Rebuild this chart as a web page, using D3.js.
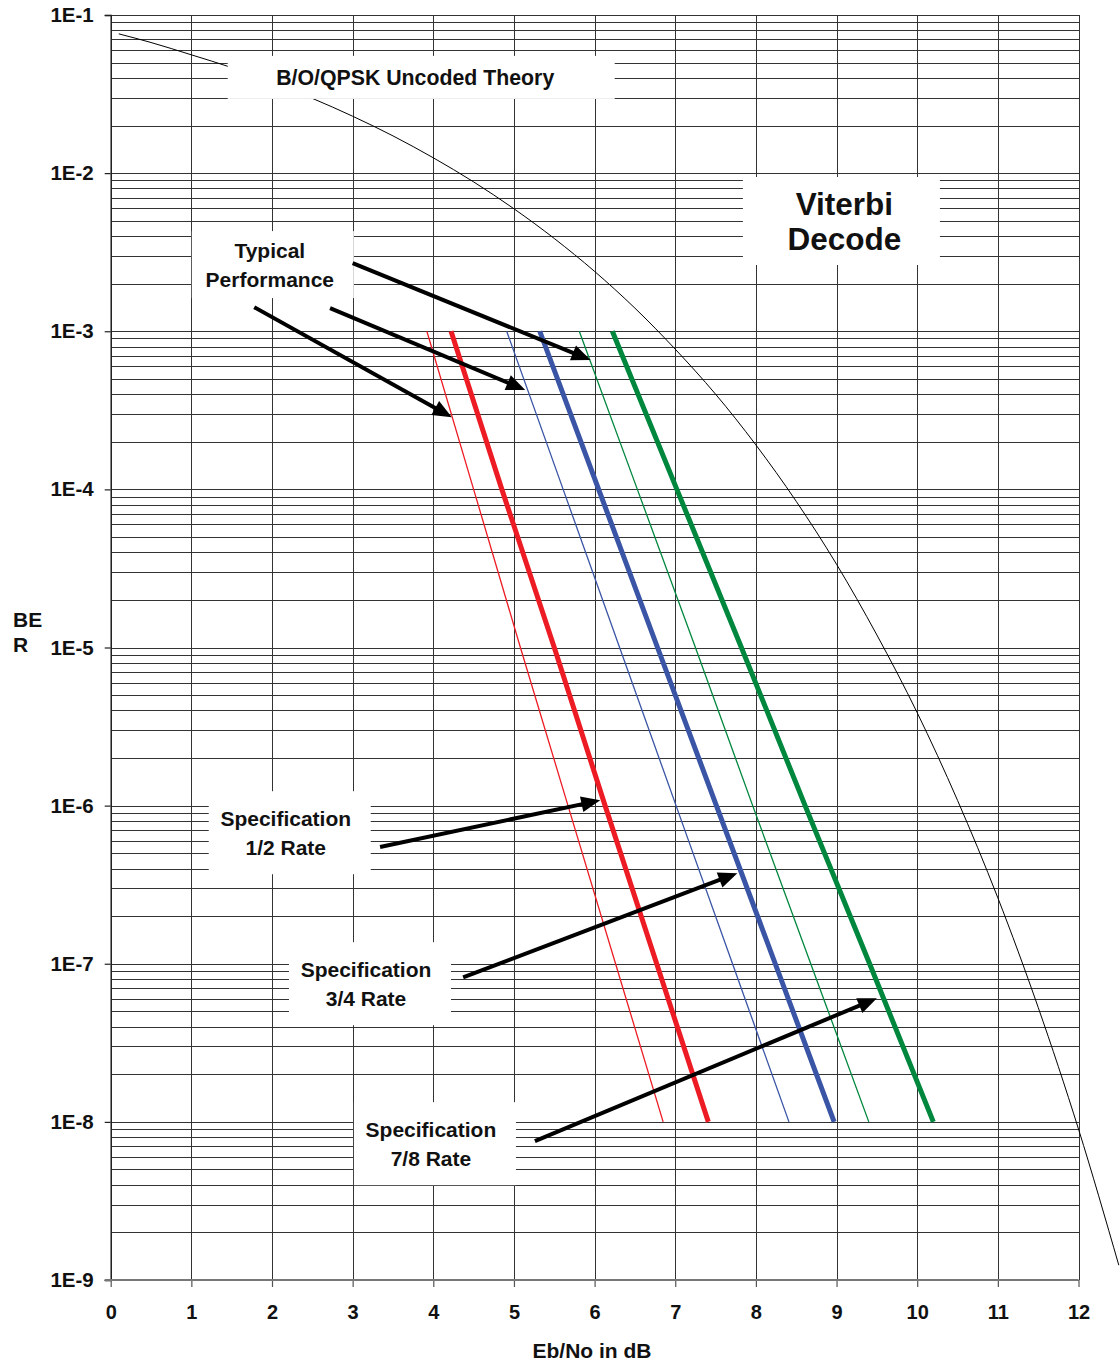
<!DOCTYPE html>
<html>
<head>
<meta charset="utf-8">
<script src="https://cdn.jsdelivr.net/npm/d3@7"></script>
<style>
  html, body { margin: 0; padding: 0; background: #fff; }
  svg { display: block; }
  text { font-family: "Liberation Sans", Arial, Helvetica, sans-serif; font-weight: bold; fill: #111; }
</style>
</head>
<body>
<svg id="chart" width="1120" height="1363"></svg>
<script>
// ---------- DATA ----------
const xTicks = [0,1,2,3,4,5,6,7,8,9,10,11,12];
const yMajorTicks = [1e-1,1e-2,1e-3,1e-4,1e-5,1e-6,1e-7,1e-8,1e-9];
const yTickLabels = ["1E-1","1E-2","1E-3","1E-4","1E-5","1E-6","1E-7","1E-8","1E-9"];

// BER levels at which the Viterbi curves were read
const viterbiBER = [1e-3, 1e-4, 1e-5, 1e-6, 1e-7, 1e-8];
// Eb/No (dB) at each BER level
const typicalHalf   = [3.92, 4.50, 5.08, 5.67, 6.26, 6.85];
const specHalf      = [4.22, 4.85, 5.50, 6.13, 6.77, 7.41];
const typicalThreeQ = [4.91, 5.61, 6.31, 7.01, 7.71, 8.41];
const specThreeQ    = [5.32, 6.05, 6.78, 7.51, 8.24, 8.97];
const typicalSevenE = [5.81, 6.53, 7.25, 7.96, 8.68, 9.40];
const specSevenE    = [6.22, 7.02, 7.82, 8.61, 9.41, 10.20];

// Uncoded B/O/QPSK theory curve
const theoryEbNo = [0.1, 0.5, 1, 1.5, 2, 2.5, 3, 3.5, 4, 4.5, 5, 5.5, 6, 6.5, 7, 7.5, 8, 8.5, 9, 9.5, 10, 10.5, 11, 11.5, 12, 12.5];
const theoryBER  = [7.6e-2, 6.7e-2, 5.6e-2, 4.65e-2, 3.75e-2, 2.97e-2, 2.29e-2, 1.72e-2, 1.25e-2, 8.8e-3, 5.95e-3, 3.86e-3, 2.39e-3, 1.4e-3, 7.7e-4, 4.0e-4, 1.91e-4, 8.4e-5, 3.36e-5, 1.2e-5, 3.87e-6, 1.08e-6, 2.61e-7, 5.3e-8, 9.0e-9, 1.24e-9];

// Arrow endpoints in data space: [fromEbNo, fromBER, toEbNo, toBER]
const arrowsTypical = [[3.00, 2.70e-3, 5.95, 6.57e-4], [2.72, 1.40e-3, 5.14, 4.25e-4], [1.78, 1.42e-3, 4.23, 2.86e-4]];
const arrowsSpec    = [[3.34, 5.47e-7, 6.07, 1.08e-6], [4.37, 8.2e-8, 7.77, 3.74e-7], [5.26, 7.55e-9, 9.50, 6.05e-8]];

// ---------- LAYOUT ----------
const svg = d3.select("#chart");
const X0 = 110.7, X1 = 1078.5, Y0 = 15, Y1 = 1280;
const x = d3.scaleLinear().domain([0, 12]).range([X0, X1]);
const y = d3.scaleLog().domain([1e-1, 1e-9]).range([Y0, Y1]);

// minor + major grid values
const yGrid = [];
for (let e = -9; e < -1; e++) for (let m = 1; m <= 9; m++) yGrid.push(m * Math.pow(10, e));
yGrid.push(1e-1);

const grid = svg.append("g").attr("class", "grid");
grid.append("g")
  .attr("transform", `translate(${X0},0)`)
  .call(d3.axisLeft(y).tickValues(yGrid).tickSize(-(X1 - X0)).tickFormat(""))
  .call(g => g.select(".domain").remove())
  .call(g => g.selectAll("line").attr("stroke", "#333").attr("stroke-width", 1).attr("shape-rendering", "crispEdges"));
grid.append("g")
  .attr("transform", `translate(0,${Y1})`)
  .call(d3.axisBottom(x).tickValues(xTicks).tickSize(-(Y1 - Y0)).tickFormat(""))
  .call(g => g.select(".domain").remove())
  .call(g => g.selectAll("line").attr("stroke", "#333").attr("stroke-width", 1).attr("shape-rendering", "crispEdges"));

// Theory curve
const theory = theoryEbNo.map((d, i) => [d, theoryBER[i]]);
svg.append("path")
  .datum(theory)
  .attr("fill", "none")
  .attr("stroke", "#000")
  .attr("stroke-width", 1)
  .attr("d", d3.line().x(d => x(d[0])).y(d => y(d[1])).curve(d3.curveMonotoneX));

// Viterbi lines
const series = [
  { v: typicalHalf,   color: "#ed1c24", w: 1.3 },
  { v: specHalf,      color: "#ed1c24", w: 5 },
  { v: typicalThreeQ, color: "#3a55a5", w: 1.3 },
  { v: specThreeQ,    color: "#3a55a5", w: 5 },
  { v: typicalSevenE, color: "#00873e", w: 1.3 },
  { v: specSevenE,    color: "#00873e", w: 5 }
];
const vline = d3.line().x(d => x(d[0])).y(d => y(d[1]));
series.forEach(s => {
  svg.append("path")
    .datum(s.v.map((e, i) => [e, viterbiBER[i]]))
    .attr("fill", "none")
    .attr("stroke", s.color)
    .attr("stroke-width", s.w)
    .attr("d", vline);
});

// Axes
const yAxis = svg.append("g")
  .attr("transform", `translate(${X0},0)`)
  .call(d3.axisLeft(y).tickValues(yMajorTicks).tickSize(6).tickPadding(11)
        .tickFormat((d, i) => yTickLabels[i]));
yAxis.select(".domain").attr("stroke", "#222").attr("stroke-width", 1.5);
yAxis.selectAll(".tick line").attr("stroke", "#222").attr("stroke-width", 1.2);
yAxis.selectAll("text").style("font-size", "20.5px").style("font-weight", "bold").attr("fill", "#111");

const xAxis = svg.append("g")
  .attr("transform", `translate(0,${Y1})`)
  .call(d3.axisBottom(x).tickValues(xTicks).tickSize(7).tickPadding(18).tickSizeOuter(0).tickFormat(d3.format("d")));
xAxis.select(".domain").remove();
xAxis.append("line").attr("x1", X0 - 6).attr("x2", X1).attr("y1", 0).attr("y2", 0)
  .attr("stroke", "#777").attr("stroke-width", 2);
xAxis.selectAll(".tick line").attr("stroke", "#555").attr("stroke-width", 1.2);
xAxis.selectAll("text").style("font-size", "20px").style("font-weight", "bold").attr("fill", "#111");

// Axis titles
svg.append("text").attr("x", 592).attr("y", 1358).attr("text-anchor", "middle")
  .style("font-size", "21px").text("Eb/No in dB");
svg.append("text").attr("x", 13).attr("y", 627).style("font-size", "21px").text("BE");
svg.append("text").attr("x", 13).attr("y", 652).style("font-size", "21px").text("R");

// Annotation boxes (centre in data space, size in px)
const notes = [
  { lines: ["B/O/QPSK Uncoded Theory"], cx: 3.85, cy: 4.03e-2, w: 387, h: 43, fs: 21.3, lh: 0, tdx: -6 },
  { lines: ["Viterbi", "Decode"], cx: 9.06, cy: 4.98e-3, w: 197, h: 88, fs: 31.5, lh: 35, tdx: 3 },
  { lines: ["Typical", "Performance"], cx: 2.01, cy: 2.64e-3, w: 162, h: 67, fs: 21, lh: 29, tdx: -3 },
  { lines: ["Specification", "1/2 Rate"], cx: 2.22, cy: 6.74e-7, w: 162, h: 83, fs: 21, lh: 29, tdx: -4 },
  { lines: ["Specification", "3/4 Rate"], cx: 3.215, cy: 7.48e-8, w: 162, h: 83, fs: 21, lh: 29, tdx: -4 },
  { lines: ["Specification", "7/8 Rate"], cx: 4.02, cy: 7.28e-9, w: 162, h: 83, fs: 21, lh: 29, tdx: -4 }
];
notes.forEach(n => {
  const cx = x(n.cx), cy = y(n.cy);
  const g = svg.append("g");
  g.append("rect").attr("x", cx - n.w / 2).attr("y", cy - n.h / 2).attr("width", n.w).attr("height", n.h).attr("fill", "#fff");
  const k = n.lines.length;
  n.lines.forEach((t, i) => {
    g.append("text")
      .attr("x", cx + n.tdx)
      .attr("y", cy + (i - (k - 1) / 2) * n.lh)
      .attr("dy", "0.36em")
      .attr("text-anchor", "middle")
      .style("font-size", n.fs + "px")
      .text(t);
  });
});

// Arrows
function arrow(a) {
  const x1 = x(a[0]), y1 = y(a[1]), x2 = x(a[2]), y2 = y(a[3]);
  const ang = Math.atan2(y2 - y1, x2 - x1);
  const L = 19, W = 8;
  const bx = x2 - L * Math.cos(ang), by = y2 - L * Math.sin(ang);
  svg.append("line").attr("x1", x1).attr("y1", y1).attr("x2", bx + 2 * Math.cos(ang)).attr("y2", by + 2 * Math.sin(ang))
    .attr("stroke", "#000").attr("stroke-width", 4);
  const px = -Math.sin(ang), py = Math.cos(ang);
  svg.append("path")
    .attr("d", `M${x2},${y2}L${bx + W * px},${by + W * py}L${bx - W * px},${by - W * py}Z`)
    .attr("fill", "#000");
}
arrowsTypical.forEach(arrow);
arrowsSpec.forEach(arrow);
</script>
</body>
</html>
